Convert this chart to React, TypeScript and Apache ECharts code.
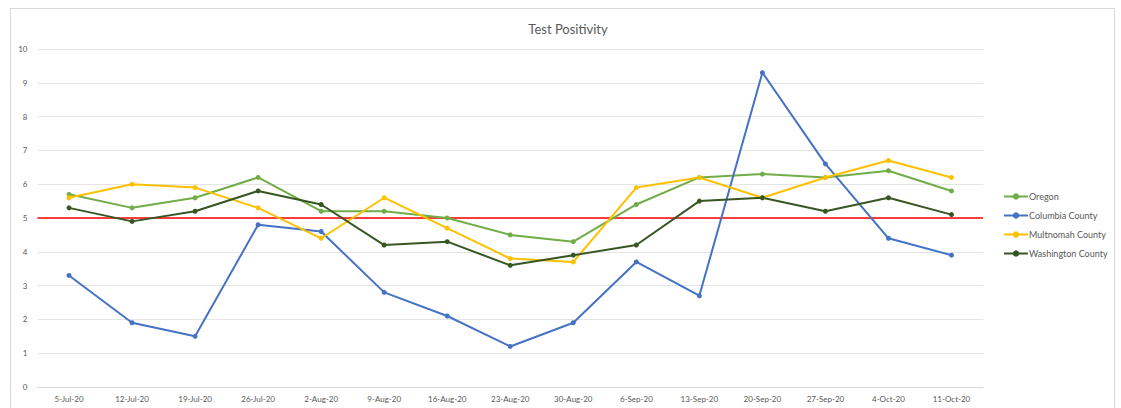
import React, { useEffect, useRef } from "react";
import * as echarts from "echarts";

const categories = ["5-Jul-20","12-Jul-20","19-Jul-20","26-Jul-20","2-Aug-20","9-Aug-20","16-Aug-20","23-Aug-20","30-Aug-20","6-Sep-20","13-Sep-20","20-Sep-20","27-Sep-20","4-Oct-20","11-Oct-20"];
const oregon = [5.7, 5.3, 5.6, 6.2, 5.2, 5.2, 5.0, 4.5, 4.3, 5.4, 6.2, 6.3, 6.2, 6.4, 5.8];
const columbia = [3.3, 1.9, 1.5, 4.8, 4.6, 2.8, 2.1, 1.2, 1.9, 3.7, 2.7, 9.3, 6.6, 4.4, 3.9];
const multnomah = [5.6, 6.0, 5.9, 5.3, 4.4, 5.6, 4.7, 3.8, 3.7, 5.9, 6.2, 5.6, 6.2, 6.7, 6.2];
const washington = [5.3, 4.9, 5.2, 5.8, 5.4, 4.2, 4.3, 3.6, 3.9, 4.2, 5.5, 5.6, 5.2, 5.6, 5.1];
const threshold = 5;

const FONT = "Lato, 'Open Sans', sans-serif";

export default function App() {
  const ref = useRef<HTMLDivElement>(null);
  useEffect(() => {
    if (!ref.current) return;
    const chart = echarts.init(ref.current, undefined, { renderer: "svg" });
    const mk = (name: string, data: number[], color: string, extra: any = {}) => ({
      name,
      type: "line",
      data,
      symbol: "circle",
      symbolSize: 5,
      lineStyle: { color, width: 2 },
      itemStyle: { color },
      z: 3,
      ...extra,
    });
    chart.setOption({
      animation: false,
      textStyle: { fontFamily: FONT },
      title: {
        text: "Test Positivity",
        left: 563,
        top: 17,
        textAlign: "center",
        textStyle: { fontSize: 13, fontWeight: "normal", color: "#595959", fontFamily: FONT },
      },
      graphic: [
        { type: "line", shape: { x1: 10, y1: 8.5, x2: 1114, y2: 8.5 }, style: { stroke: "#d9d9d9", lineWidth: 1 } },
        { type: "line", shape: { x1: 10.5, y1: 8, x2: 10.5, y2: 408 }, style: { stroke: "#d9d9d9", lineWidth: 1 } },
        { type: "line", shape: { x1: 1114.5, y1: 8, x2: 1114.5, y2: 408 }, style: { stroke: "#d9d9d9", lineWidth: 1 } },
      ],
      legend: {
        orient: "vertical",
        left: 998,
        top: 187,
        itemGap: 10,
        itemWidth: 24,
        itemHeight: 8,
        textStyle: { fontSize: 9, color: "#595959", fontFamily: FONT, padding: [0, 0, 0, -4] },
        data: ["Oregon", "Columbia County", "Multnomah County", "Washington County"],
      },
      grid: { left: 37.5, right: 138, top: 49, bottom: 21, containLabel: false },
      xAxis: {
        type: "category",
        data: categories,
        boundaryGap: true,
        axisLine: { lineStyle: { color: "#d9d9d9" } },
        axisTick: { show: false },
        axisLabel: { fontSize: 8, color: "#595959", margin: 8, interval: 0 },
      },
      yAxis: {
        type: "value",
        min: 0,
        max: 10,
        interval: 1,
        axisLine: { show: false },
        axisTick: { show: false },
        axisLabel: { fontSize: 8, color: "#595959", margin: 10 },
        splitLine: { lineStyle: { color: "#e4e4e4" } },
      },
      series: [
        mk("Oregon", oregon, "#70AD47"),
        mk("Columbia County", columbia, "#4472C4"),
        mk("Multnomah County", multnomah, "#FFC000"),
        mk("Washington County", washington, "#375623", {
          markLine: {
            silent: true,
            symbol: ["none", "none"],
            label: { show: false },
            lineStyle: { color: "#FF0000", width: 1.5, type: "solid" },
            data: [{ yAxis: threshold }],
            z: 2,
          },
        }),
      ],
    });
    return () => chart.dispose();
  }, []);
  return <div ref={ref} style={{ position: "fixed", left: 0, top: 0, width: 1121, height: 408, background: "#fff" }} />;
}
